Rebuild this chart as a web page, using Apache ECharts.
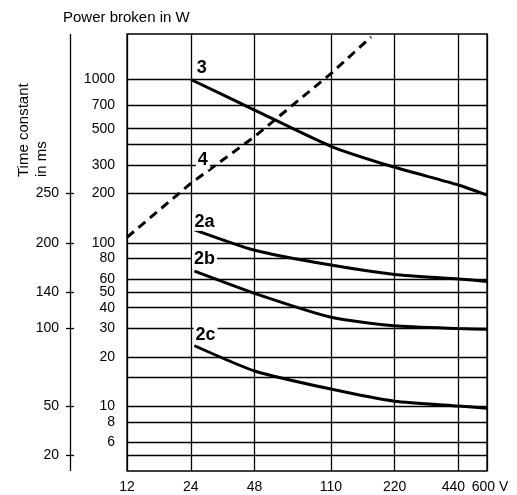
<!DOCTYPE html>
<html lang="en">
<head>
<meta charset="UTF-8">
<title>Time constant / power broken</title>
<script src="https://cdn.jsdelivr.net/npm/echarts@6/dist/echarts.min.js"></script>
</head>
<body style="margin:0">
<div id="main" style="width:517px;height:495px"></div>
<script>
// grid values
var voltTicks = [12, 24, 48, 110, 220, 440, 600];
var powerLines = [1000, 700, 500, 400, 300, 200, 100, 80, 60, 50, 40, 30, 20, 15, 10, 8, 6, 5];
var powerLabels = [1000, 700, 500, 300, 200, 100, 80, 60, 50, 40, 30, 20, 10, 8, 6];
// outer scale: time constant (ms) and the power line it sits on
var timeConst = [250, 200, 140, 100, 50, 20];
var timeAtPower = [200, 100, 50, 30, 10, 5];

// curves (volts, watts)
var volts3 = [24, 48, 110, 220, 440, 600];
var power3 = [1000, 650, 390, 290, 226, 196];
var volts4 = [12, 24, 48, 110, 170];
var power4 = [108, 231, 447, 1087, 1820];
var volts2 = [25, 48, 110, 220, 440, 600];
var power2a = [120, 90, 73, 64, 60, 58];
var power2b = [67, 49, 35, 31, 29.8, 29.5];
var power2c = [23.4, 16.4, 12.7, 10.7, 10, 9.7];

var FONT = 'Liberation Sans, Arial, sans-serif';
var chart = echarts.init(document.getElementById('main'));

function curve(name, xs, ys, offset, dashed) {
    var data = xs.map(function (x, i) {
        var item = { value: [x, ys[i]] };
        if (i === (name === '4' ? 1 : 0)) {
            item.label = {
                show: true, formatter: name, position: 'inside', offset: offset,
                fontSize: 18, fontWeight: 'bold', fontFamily: FONT, color: '#000',
                backgroundColor: '#fff', padding: [0, 2]
            };
        }
        return item;
    });
    return {
        type: 'line', name: name, data: data,
        smooth: dashed ? false : 0.2,
        symbol: 'circle', symbolSize: 1, showSymbol: true,
        itemStyle: { color: '#000' },
        lineStyle: { color: '#000', width: 3, type: dashed ? [9, 6] : 'solid' },
        z: 5, silent: true
    };
}

var gridLines = [];
powerLines.forEach(function (v) {
    gridLines.push({
        yAxis: v,
        label: { show: powerLabels.indexOf(v) >= 0, formatter: String(v), distance: 12 }
    });
});
voltTicks.forEach(function (v) {
    var lab = { show: true, formatter: String(v), distance: 9 };
    if (v === 440) lab.offset = [-5, 0];
    if (v === 600) { lab.formatter = '600 V'; lab.offset = [3, 0]; }
    gridLines.push({ xAxis: v, label: lab });
});

var outerLines = [{ xAxis: 0.5, label: { show: false } }];
timeConst.forEach(function (t, i) {
    outerLines.push([
        { coord: [0, timeAtPower[i]], label: { show: true, formatter: String(t) } },
        { coord: [1, timeAtPower[i]] }
    ]);
});

chart.setOption({
    animation: false,
    grid: [
        { left: 127, right: 30, top: 34, bottom: 24, show: true, borderColor: '#000', borderWidth: 1.3 },
        { left: 66, width: 8, top: 34, bottom: 24 }
    ],
    xAxis: [
        { type: 'log', logBase: 2, min: 12, max: 600, show: false, gridIndex: 0 },
        { type: 'value', min: 0, max: 1, show: false, gridIndex: 1 }
    ],
    yAxis: [
        { type: 'log', logBase: 10, min: 4, max: 1900, show: false, gridIndex: 0 },
        { type: 'log', logBase: 10, min: 4, max: 1900, show: false, gridIndex: 1 }
    ],
    graphic: [
        { type: 'text', left: 63, top: 10,
          style: { text: 'Power broken in W', fontSize: 15, fontFamily: FONT, fill: '#000' } },
        { type: 'text', x: 15, y: 177, rotation: Math.PI / 2,
          style: { text: 'Time constant\nin ms', fontSize: 15, fontFamily: FONT, fill: '#000',
                   align: 'left', verticalAlign: 'top', lineHeight: 18 } }
    ],
    series: [
        {
            type: 'line', data: [], xAxisIndex: 0, yAxisIndex: 0, silent: true, z: 1,
            markLine: {
                silent: true, symbol: 'none', animation: false,
                lineStyle: { color: '#000', width: 1.3, type: 'solid' },
                label: { position: 'start', fontSize: 14, fontFamily: FONT, color: '#000' },
                data: gridLines
            }
        },
        {
            type: 'line', data: [], xAxisIndex: 1, yAxisIndex: 1, silent: true, z: 1,
            markLine: {
                silent: true, symbol: 'none', animation: false,
                lineStyle: { color: '#000', width: 1.3, type: 'solid' },
                label: { position: 'start', distance: 7, fontSize: 14, fontFamily: FONT, color: '#000' },
                data: outerLines
            }
        },
        curve('3', volts3, power3, [11, -11], false),
        curve('4', volts4, power4, [12, -23], true),
        curve('2a', volts2, power2a, [10, -8], false),
        curve('2b', volts2, power2b, [10, -12], false),
        curve('2c', volts2, power2c, [11, -11], false)
    ]
});
</script>
</body>
</html>
